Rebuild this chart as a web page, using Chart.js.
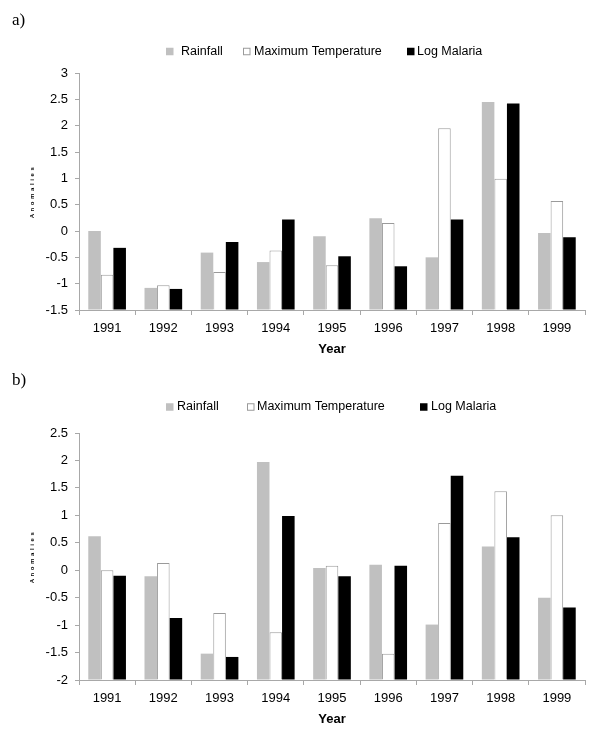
<!DOCTYPE html>
<html><head><meta charset="utf-8">
<script src="https://cdn.jsdelivr.net/npm/chart.js@4.4.1/dist/chart.umd.min.js"></script>
<style>
html,body{margin:0;padding:0;background:#fff;width:600px;height:730px;overflow:hidden}
.wrap{position:absolute;left:0;width:600px}
canvas{display:block}
</style></head><body>
<div class="wrap" style="top:0;height:360px"><canvas id="ca" width="600" height="360"></canvas></div>
<div class="wrap" style="top:360px;height:370px"><canvas id="cb" width="600" height="370"></canvas></div>
<script>
// ---- data ----
const years = ['1991','1992','1993','1994','1995','1996','1997','1998','1999'];
const seriesNames = ['Rainfall','Maximum Temperature','Log Malaria'];
const rainfallA = [0.00,-1.08,-0.41,-0.59,-0.10,0.24,-0.50,2.45,-0.04];
const maxTempA  = [-0.83,-1.03,-0.78,-0.37,-0.65,0.15,1.95,0.99,0.57];
const malariaA  = [-0.32,-1.10,-0.21,0.22,-0.48,-0.67,0.22,2.42,-0.12];
const rainfallB = [0.62,-0.11,-1.52,1.97,0.04,0.10,-0.99,0.43,-0.50];
const maxTempB  = [0.00,0.13,-0.78,-1.13,0.08,-1.52,0.86,1.44,1.00];
const malariaB  = [-0.10,-0.87,-1.58,0.99,-0.11,0.08,1.72,0.60,-0.68];
const yTicksA = [-1.5,-1,-0.5,0,0.5,1,1.5,2,2.5,3];
const yTicksB = [-2,-1.5,-1,-0.5,0,0.5,1,1.5,2,2.5];
const yTitle = 'Anomalies';
const xTitle = 'Year';

// ---- styles ----
const fills = ['#c0c0c0','#ffffff','#000000'];
const borders = ['#c0c0c0','#9a9a9a','#000000'];
const borderWidths = [0,1,0];
const axisColor = '#a8a8a8';
Chart.defaults.font.family = "'Liberation Sans', Arial, sans-serif";
Chart.defaults.color = '#000';

const decor = {
  id: 'decor',
  afterDraw(chart, args, o) {
    const ctx = chart.ctx;
    const ca = chart.chartArea;
    ctx.save();
    // panel label
    ctx.fillStyle = '#000';
    ctx.font = "17px 'Liberation Serif', 'Times New Roman', serif";
    ctx.textBaseline = 'middle';
    ctx.textAlign = 'left';
    ctx.fillText(o.label, 12, o.labelY);
    // legend
    ctx.font = "12.5px 'Liberation Sans', Arial, sans-serif";
    chart.data.datasets.forEach((ds, i) => {
      const bx = o.boxX[i], tx = o.textX[i], y = o.legendY, s = 7.5;
      ctx.fillStyle = ds.backgroundColor;
      ctx.fillRect(bx, y - s/2, s, s);
      if (ds.borderWidth > 0) {
        ctx.strokeStyle = ds.borderColor; ctx.lineWidth = 1;
        ctx.strokeRect(bx + 0.5, y - s/2 + 0.5, s - 1, s - 1);
      }
      ctx.fillStyle = '#000';
      ctx.fillText(ds.label, tx, y);
    });
    // y title
    ctx.translate(32.5, (ca.top + ca.bottom) / 2);
    ctx.rotate(-Math.PI / 2);
    ctx.font = "bold 6px 'Liberation Sans', Arial, sans-serif";
    ctx.letterSpacing = '2.6px';
    ctx.textAlign = 'center';
    ctx.fillStyle = '#000';
    ctx.fillText(yTitle, 0, 0);
    ctx.restore();
  }
};

function makeChart(id, rain, tmax, mal, ticks, deco) {
  const series = [rain, tmax, mal];
  const yMin = ticks[0], yMax = ticks[ticks.length - 1];
  return new Chart(document.getElementById(id), {
    type: 'bar',
    data: {
      labels: years,
      datasets: series.map((d, i) => ({
        label: seriesNames[i], data: d, base: yMin,
        backgroundColor: fills[i], borderColor: borders[i], borderWidth: borderWidths[i],
        categoryPercentage: 0.67, barPercentage: 1.0
      }))
    },
    options: {
      responsive: false, animation: false,
      layout: { padding: { left: 0, right: 15, top: 73, bottom: 0 } },
      plugins: { legend: { display: false }, tooltip: { enabled: false }, decor: deco },
      scales: {
        x: {
          offset: true,
          grid: { offset: true, drawOnChartArea: false, drawTicks: true, tickLength: 5, color: axisColor },
          border: { display: true, color: axisColor },
          ticks: { font: { size: 13 }, padding: 6, color: '#000', maxRotation: 0 },
          title: { display: true, text: xTitle, font: { size: 13, weight: 'bold' }, padding: { top: 0, bottom: 3 }, color: '#000' },
          afterFit(s) { s.height = 50; }
        },
        y: {
          min: yMin, max: yMax,
          afterBuildTicks(s) { s.ticks = ticks.map(v => ({ value: v })); },
          grid: { drawOnChartArea: false, drawTicks: true, tickLength: 4, color: axisColor },
          border: { display: true, color: axisColor },
          ticks: { font: { size: 13 }, padding: 7, color: '#000', callback: v => String(v) },
          afterFit(s) { s.width = 79; }
        }
      }
    },
    plugins: [decor]
  });
}

makeChart('ca', rainfallA, maxTempA, malariaA, yTicksA,
  { label: 'a)', labelY: 20.5, legendY: 51.5, boxX: [166, 243, 407], textX: [181, 254, 417] });
makeChart('cb', rainfallB, maxTempB, malariaB, yTicksB,
  { label: 'b)', labelY: 21, legendY: 47, boxX: [166, 247, 420], textX: [177, 257, 431] });
</script>
</body></html>
